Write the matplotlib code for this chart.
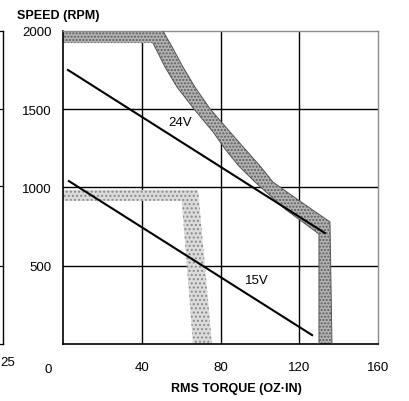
import matplotlib
matplotlib.use("Agg")
import matplotlib.pyplot as plt
from matplotlib.lines import Line2D

plt.rcParams['font.family'] = ['Liberation Sans', 'DejaVu Sans']

# speed / torque lines
torque_24v = [2.5, 133]
speed_24v = [1751, 709]
torque_15v = [3, 126.5]
speed_15v = [1041, 57]

# 24V envelope band (outer and inner edge)
outer_24v_t = [0, 50.8, 55.4, 60.9, 67.0, 74.7, 84.8, 92.4, 100.1, 106.6, 120.4, 135.6, 136.6]
outer_24v_s = [2000, 2000, 1898, 1770, 1642, 1502, 1355, 1246, 1137, 1035, 912, 780, 0]
inner_24v_t = [0, 45.7, 46.7, 51.8, 57.9, 66.5, 76.2, 82.3, 89.3, 97.5, 113.0, 130, 130]
inner_24v_s = [1923, 1923, 1898, 1770, 1642, 1502, 1355, 1246, 1137, 1035, 860, 703, 0]

# 15V envelope band
outer_15v_t = [0, 68.6, 75.7]
outer_15v_s = [985, 985, 0]
inner_15v_t = [0, 60.3, 66]
inner_15v_s = [915, 915, 0]

x_ticks = [40, 80, 120, 160]
y_ticks = [500, 1000, 1500, 2000]

fig = plt.figure(figsize=(4.10, 4.02), dpi=100)
ax = fig.add_axes([0.1537, 0.1418, 0.7683, 0.7786])
ax.set_xlim(0, 160)
ax.set_ylim(0, 2000)

# bands
band24_t = outer_24v_t + inner_24v_t[::-1]
band24_s = outer_24v_s + inner_24v_s[::-1]
ax.fill(band24_t, band24_s, facecolor='#b4b4b4', edgecolor='#5a5a5a',
        hatch='.....', linewidth=0, zorder=2)
ax.plot(outer_24v_t[1:], outer_24v_s[1:], color='#555555', lw=0.7, zorder=3)
ax.plot(inner_24v_t[1:], inner_24v_s[1:], color='#555555', lw=0.7, zorder=3)

band15_t = outer_15v_t + inner_15v_t[::-1]
band15_s = outer_15v_s + inner_15v_s[::-1]
ax.fill(band15_t, band15_s, facecolor='#dcdcdc', edgecolor='#8a8a8a',
        hatch='....', linewidth=0, zorder=2)

# grid
for x in x_ticks[:-1]:
    ax.axvline(x, color='black', lw=1.0, zorder=1)
for y in y_ticks[:-1]:
    ax.axhline(y, color='black', lw=1.0, zorder=1)

ax.plot(torque_24v, speed_24v, color='black', lw=1.5, zorder=4)
ax.plot(torque_15v, speed_15v, color='black', lw=1.5, zorder=4)
ax.text(59.4, 1419, '24V', fontsize=9.5, ha='center', va='center', zorder=5)
ax.text(98.5, 406, '15V', fontsize=9.5, ha='center', va='center', zorder=5)

ax.set_xticks(x_ticks)
ax.set_yticks(y_ticks)
ax.tick_params(length=0, labelsize=9.5)
ax.tick_params(axis='x', pad=12)
ax.tick_params(axis='y', pad=8)
ax.annotate('0', xy=(0, 0), xytext=(-11, -18), textcoords='offset points',
            ha='center', va='center', fontsize=9.5, annotation_clip=False)

for side in ['left', 'bottom']:
    ax.spines[side].set_linewidth(1.2)
for side in ['top', 'right']:
    ax.spines[side].set_color('#8c8c8c')
    ax.spines[side].set_linewidth(1.0)

fig.text(0.1415, 0.960, 'SPEED (RPM)', fontsize=9, fontweight='bold',
         ha='center', va='center')
fig.text(0.5756, 0.0323, 'RMS TORQUE (OZ·IN)', fontsize=9, fontweight='bold',
         ha='center', va='center')

# edge of the neighbouring chart on the left
fig.add_artist(Line2D([0.0085, 0.0085], [0.1418, 0.9204], color='black', lw=1.0))
for fy in [0.1418, 0.3358, 0.5348, 0.7264, 0.9204]:
    fig.add_artist(Line2D([0, 0.0085], [fy, fy], color='black', lw=0.9))
fig.text(0.0, 0.097, '25', fontsize=9.5, ha='left', va='center')

fig.savefig('out.png', dpi=100)
